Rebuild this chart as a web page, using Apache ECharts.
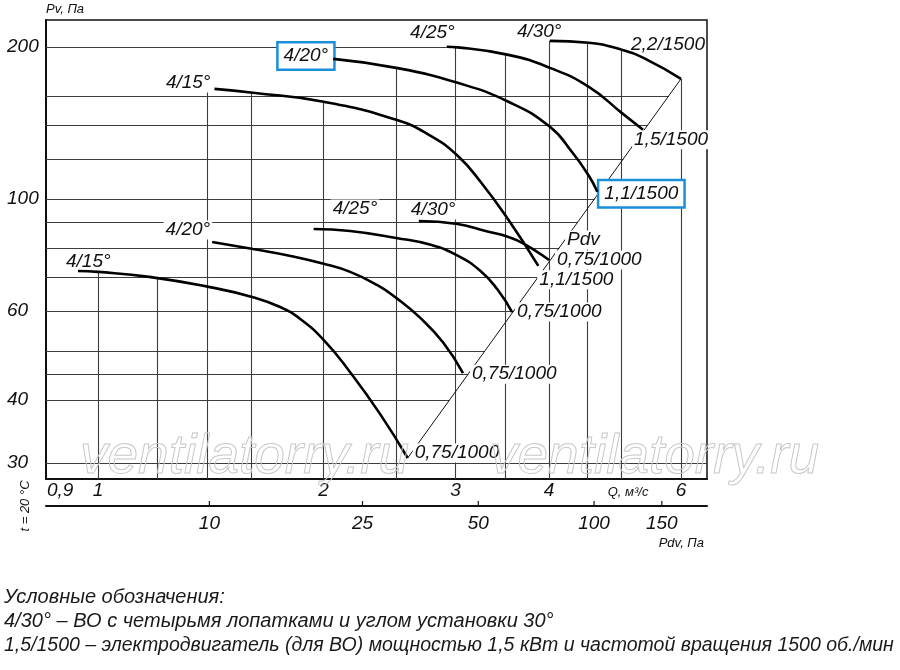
<!DOCTYPE html>
<html>
<head>
<meta charset="utf-8">
<title>Характеристика вентилятора</title>
<script src="https://cdn.jsdelivr.net/npm/echarts@6/dist/echarts.min.js"></script>
<style>
  html, body { margin: 0; padding: 0; background: #fff; }
  #chart { width: 900px; height: 670px; }
</style>
</head>
<body>
<div id="chart"></div>
<script>
// Q, м3/с и Pv, Па
// 1000 об/мин
var qLow15 = [0.94, 1.0, 1.17, 1.41, 1.61, 1.75, 1.86, 2.0, 2.17, 2.38, 2.59];
var pLow15 = [72.0, 71.7, 70.1, 66.9, 63.9, 61.1, 57.9, 52.6, 45.4, 37.5, 30.7];
var qLow20 = [1.42, 1.61, 1.8, 2.0, 2.17, 2.36, 2.5, 2.69, 2.89, 3.07];
var pLow20 = [82.2, 79.6, 77.2, 74.4, 71.7, 67.5, 63.7, 58.2, 51.9, 45.2];
var qLow25 = [1.94, 2.17, 2.5, 2.78, 3.02, 3.24, 3.41, 3.57];
var pLow25 = [87.2, 86.4, 83.7, 81.1, 77.2, 72.0, 66.3, 59.7];
var qLow30 = [2.68, 3.02, 3.3, 3.53, 3.66, 3.82, 4.0];
var pLow30 = [90.4, 89.2, 86.3, 84.1, 82.2, 79.3, 75.7];
// 1500 об/мин
var qHigh15 = [1.43, 1.61, 2.0, 2.5, 2.78, 3.02, 3.24, 3.53, 3.87];
var pHigh15 = [165.1, 162.2, 155.7, 143.4, 133.3, 121.7, 108.1, 90.9, 73.7];
var qHigh20 = [2.06, 2.5, 3.02, 3.53, 4.01, 4.3, 4.52, 4.64];
var pHigh20 = [189.3, 181.7, 169.7, 155.7, 138.9, 123.4, 111.1, 103.3];
var qHigh25 = [2.92, 3.02, 3.53, 4.01, 4.52, 5.0, 5.34];
var pHigh25 = [200, 199.5, 192.8, 181.7, 166.7, 148, 137];
var qHigh30 = [4.01, 4.52, 5.0, 5.41, 6.0];
var pHigh30 = [205.5, 203.7, 197.3, 188.5, 172.8];

var bladeNames = ['4/15°', '4/20°', '4/25°', '4/30°'];
var motorsLow = ['0,75/1000', '0,75/1000', '0,75/1000', '0,75/1000'];
var motorsHigh = ['1,1/1500', '1,1/1500', '1,5/1500', '2,2/1500'];

var xTicks = [0.9, 1, 2, 3, 4, 6];
var yTicks = [30, 40, 60, 100, 200];
var pdvTicks = [10, 25, 50, 100, 150];
var gridQ = [1, 1.2, 1.4, 1.6, 2, 2.5, 3, 3.5, 4, 4.5, 5, 6];
var gridP = [30, 40, 45, 50, 60, 70, 80, 90, 100, 120, 140, 160, 200];

var Q_MIN = 0.852, Q_MAX = 6.5, P_MIN = 27.9, P_MAX = 226;
var PDV_MIN = 3.76, PDV_MAX = 196.6;

var FONT = '"Liberation Sans", Arial, sans-serif';

function zip(q, p) {
  return q.map(function (v, i) { return [v, p[i]]; });
}

var curves = [
  { name: bladeNames[0], motor: motorsLow[0], data: zip(qLow15, pLow15) },
  { name: bladeNames[1], motor: motorsLow[1], data: zip(qLow20, pLow20) },
  { name: bladeNames[2], motor: motorsLow[2], data: zip(qLow25, pLow25) },
  { name: bladeNames[3], motor: motorsLow[3], data: zip(qLow30, pLow30) },
  { name: bladeNames[0], motor: motorsHigh[0], data: zip(qHigh15, pHigh15) },
  { name: bladeNames[1], motor: motorsHigh[1], data: zip(qHigh20, pHigh20) },
  { name: bladeNames[2], motor: motorsHigh[2], data: zip(qHigh25, pHigh25) },
  { name: bladeNames[3], motor: motorsHigh[3], data: zip(qHigh30, pHigh30) }
];

// линия Pdv через концы крайних кривых
var diagLine = [
  curves[0].data[curves[0].data.length - 1],
  curves[7].data[curves[7].data.length - 1]
];

function interpLog(pts, q) {
  var n = pts.length;
  if (q <= pts[0][0]) return pts[0][1];
  if (q >= pts[n - 1][0]) return pts[n - 1][1];
  for (var i = 1; i < n; i++) {
    if (q <= pts[i][0]) {
      var a = pts[i - 1], b = pts[i];
      var t = Math.log(q / a[0]) / Math.log(b[0] / a[0]);
      return Math.exp(Math.log(a[1]) + t * Math.log(b[1] / a[1]));
    }
  }
}

// верх вертикальной линии сетки - самая верхняя кривая
function verticalTop(q) {
  var top = null;
  curves.forEach(function (c) {
    var d = c.data;
    if (q >= d[0][0] - 0.05 && q <= d[d.length - 1][0] + 0.01) {
      var v = interpLog(d, q);
      if (top === null || v > top) top = v;
    }
  });
  return top;
}

// конец горизонтальной линии сетки - линия Pdv
function horizontalEnd(p) {
  var a = diagLine[0], b = diagLine[1];
  if (p < a[1]) return Q_MAX;
  if (p <= b[1]) {
    var t = Math.log(p / a[1]) / Math.log(b[1] / a[1]);
    return Math.exp(Math.log(a[0]) + t * Math.log(b[0] / a[0]));
  }
  var end = b[0];
  curves.forEach(function (c) {
    c.data.forEach(function (pt) {
      if (pt[1] >= p && pt[0] < end) end = pt[0];
    });
  });
  return end;
}

var gridLines = [];
gridQ.forEach(function (q) {
  var top = verticalTop(q);
  if (top !== null) gridLines.push({ coords: [[q, P_MIN], [q, top]] });
});
gridP.forEach(function (p) {
  gridLines.push({ coords: [[Q_MIN, p], [horizontalEnd(p), p]] });
});

var chart = echarts.init(document.getElementById('chart'));

var series = [
  {
    type: 'lines',
    coordinateSystem: 'cartesian2d',
    data: gridLines,
    lineStyle: { color: '#3c3c3c', width: 1.1, opacity: 1 },
    silent: true,
    z: 1
  },
  {
    type: 'line',
    data: diagLine,
    symbol: 'none',
    lineStyle: { color: '#111', width: 1 },
    silent: true,
    z: 1
  }
];
curves.forEach(function (c) {
  series.push({
    type: 'line',
    data: c.data,
    symbol: 'none',
    smooth: 0.5,
    lineStyle: { color: '#000', width: 2.6 },
    silent: true,
    z: 5
  });
});

var option = {
  animation: false,
  grid: {
    left: 46, right: 193, top: 20, bottom: 191,
    show: true, borderColor: '#111', borderWidth: 1.5
  },
  xAxis: [
    {
      type: 'log', min: Q_MIN, max: Q_MAX,
      axisLine: { show: true, onZero: false, lineStyle: { color: '#111', width: 2 } },
      axisTick: { show: false }, axisLabel: { show: false }, splitLine: { show: false }
    },
    {
      type: 'log', min: PDV_MIN, max: PDV_MAX, position: 'bottom', offset: 27,
      axisLine: { show: true, onZero: false, lineStyle: { color: '#111', width: 2 } },
      axisTick: { show: false }, axisLabel: { show: false }, splitLine: { show: false }
    }
  ],
  yAxis: {
    type: 'log', min: P_MIN, max: P_MAX,
    axisLine: { show: true, onZero: false, lineStyle: { color: '#111', width: 2 } },
    axisTick: { show: false }, axisLabel: { show: false }, splitLine: { show: false }
  },
  series: series
};

chart.setOption(option);

// подписи
function px(q, p) {
  return chart.convertToPixel({ xAxisIndex: 0, yAxisIndex: 0 }, [q, p]);
}

var g = [];
function text(str, x, y, size, align, extra) {
  var style = {
    text: str, fontSize: size, fontFamily: FONT, fontStyle: 'italic',
    fill: '#111', align: align || 'center', verticalAlign: 'middle'
  };
  if (extra) for (var k in extra) style[k] = extra[k];
  g.push({ type: 'text', x: x, y: y, style: style, z: 3, silent: true });
}

var gridLeft = px(Q_MIN, P_MIN)[0], gridRight = px(Q_MAX, P_MIN)[0];
var gridBottom = px(Q_MIN, P_MIN)[1];

yTicks.forEach(function (v) {
  text(String(v), 7, px(Q_MIN, v)[1], 19, 'left');
});
xTicks.forEach(function (v) {
  var x = px(v, P_MIN)[0];
  if (v < 1) text(String(v).replace('.', ','), gridLeft + 1, gridBottom + 12, 19, 'left');
  else text(String(v), x, gridBottom + 12, 19, 'center');
});
text('Q, м³/с', px(5.1, P_MIN)[0], gridBottom + 13, 13, 'center');
text('Pv, Па', gridLeft, 9, 13, 'left');

var pdvY = gridBottom + 27;
pdvTicks.forEach(function (v) {
  var x = chart.convertToPixel({ xAxisIndex: 1 }, v);
  g.push({ type: 'line', shape: { x1: x, y1: pdvY - 5, x2: x, y2: pdvY }, style: { stroke: '#111', lineWidth: 1.2 }, z: 3, silent: true });
  text(String(v), x, pdvY + 18, 19, 'center');
});
text('Pdv, Па', gridRight - 3, pdvY + 37, 13, 'right');
g.push({
  type: 'text', x: 25, y: 506, rotation: Math.PI / 2, silent: true, z: 3,
  style: { text: 't = 20 °C', fontSize: 13, fontFamily: FONT, fontStyle: 'italic', fill: '#111', align: 'center', verticalAlign: 'middle' }
});

// размещение подписей кривых: [dx, dy, align] для названия и для двигателя
var place = [
  [[-14, -9, 'left'], [5, -5, 'left']],
  [[0, -12, 'right'], [7, 1, 'left']],
  [[17, -20, 'left'], [3, 0, 'left']],
  [[-10, -11, 'left'], [6, 0, 'left']],
  [[-2, -6, 'right'], [-1, 14, 'left']],
  [[0, -3, 'right'], [2, 2, 'left']],
  [[10, -14, 'right'], [-11, 10, 'left']],
  [[-33, -9, 'left'], [24, -34, 'right']]
];
var plain = { backgroundColor: '#fff', padding: [0, 2] };
var boxed = { backgroundColor: '#fff', padding: [3, 5], borderColor: '#1b8fd9', borderWidth: 2.5 };

curves.forEach(function (c, i) {
  var d = c.data;
  var s = px(d[0][0], d[0][1]);
  var e = px(d[d.length - 1][0], d[d.length - 1][1]);
  var ps = place[i];
  var isBoxed = i === 5;
  text(c.name, s[0] + ps[0][0], s[1] + ps[0][1], 19, ps[0][2], isBoxed ? boxed : (i === 7 ? null : plain));
  text(c.motor, e[0] + ps[1][0], e[1] + ps[1][1], 19, ps[1][2], isBoxed ? boxed : (i === 7 ? null : plain));
});
var l30 = curves[3].data[curves[3].data.length - 1];
var pd = px(l30[0], l30[1]);
text('Pdv', pd[0] + 16, pd[1] - 20, 19, 'left', plain);

// водяной знак
[80, 490].forEach(function (x) {
  g.push({
    type: 'text', x: x, y: 430, silent: true, z: 10,
    style: {
      text: 'ventilatorry.ru', fontSize: 55, fontFamily: FONT, fontStyle: 'italic',
      fill: 'rgba(0,0,0,0)', stroke: '#c8c8c8', lineWidth: 1, align: 'left', verticalAlign: 'alphabetic'
    }
  });
});

// условные обозначения
var notes = [
  'Условные обозначения:',
  '4/30° – ВО с четырьмя лопатками и углом установки 30°',
  '1,5/1500 – электродвигатель (для ВО) мощностью 1,5 кВт и частотой вращения 1500 об./мин'
];
var noteSizes = [20, 20, 19.5];
notes.forEach(function (s, i) {
  text(s, 4, 597 + i * 24.5, noteSizes[i], 'left', { fill: '#1a1a1a' });
});

chart.setOption({ graphic: { elements: g } });
</script>
</body>
</html>
